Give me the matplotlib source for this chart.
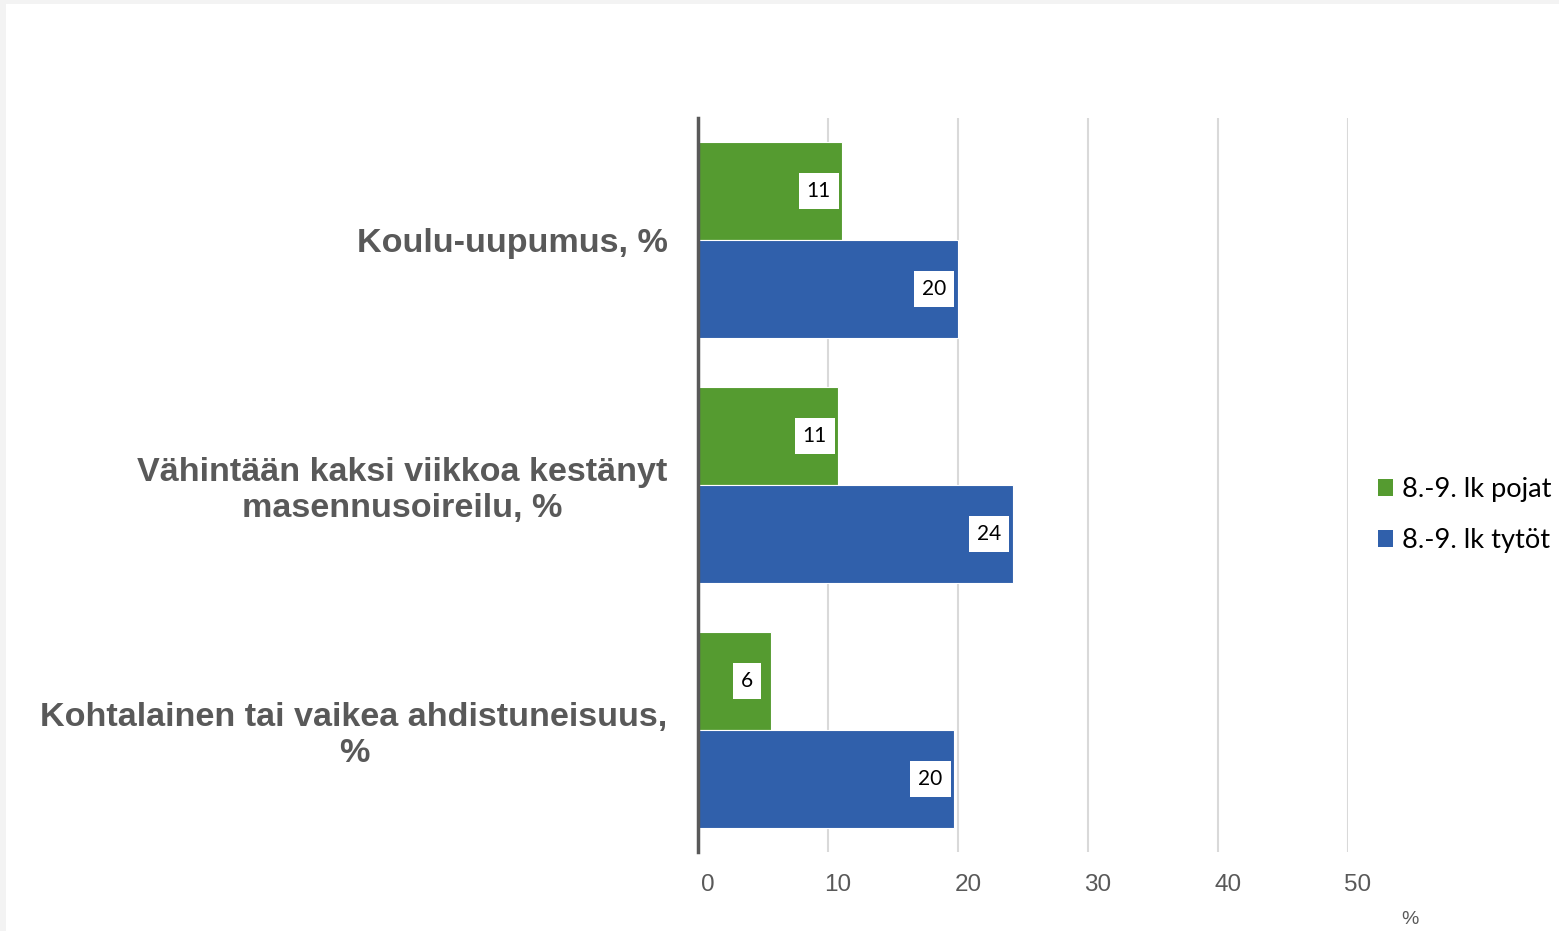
import matplotlib.pyplot as plt
import matplotlib.transforms as mtransforms
from matplotlib.patches import Patch, Rectangle
import numpy as np

categories = ["Koulu-uupumus, %",
              "Vähintään kaksi viikkoa kestänyt\nmasennusoireilu, %",
              "Kohtalainen tai vaikea ahdistuneisuus,\n%"]
series_names = ["8.-9. lk pojat", "8.-9. lk tytöt"]
pojat = [11.1, 10.8, 5.6]
tytot = [20.0, 24.2, 19.7]
xticks = [0, 10, 20, 30, 40, 50]

GREEN = "#559b30"
BLUE = "#3060ab"
GRAY = "#595959"

W, H = 1559, 931
fig = plt.figure(figsize=(W / 100, H / 100), dpi=100, facecolor="#f3f3f3")
fig.patches.append(Rectangle((6 / W, 0), 1, 1 - 4 / H, transform=fig.transFigure,
                             facecolor="white", edgecolor="none", zorder=-5))

ax = fig.add_axes([698 / W, 1 - 852 / H, (1348 - 698) / W, (852 - 118) / H])
ax.set_facecolor("none")

y = np.arange(len(categories))
h = 0.4
b1 = ax.barh(y - h / 2, pojat, height=h, color=GREEN, edgecolor="white", linewidth=0.8, zorder=3)
b2 = ax.barh(y + h / 2, tytot, height=h, color=BLUE, edgecolor="white", linewidth=0.8, zorder=3)

for bars, vals in ((b1, pojat), (b2, tytot)):
    for rect, v in zip(bars, vals):
        ax.annotate(f"{round(v)}", (v, rect.get_y() + rect.get_height() / 2),
                    xytext=(-17, 0), textcoords="offset points", ha="center", va="center",
                    fontsize=15, family=["Lato", "DejaVu Sans"], color="black", zorder=5,
                    bbox=dict(boxstyle="square,pad=0.38", facecolor="white", edgecolor="none"))

ax.set_ylim(len(categories) - 0.5, -0.5)
ax.set_xlim(0, 50)
ax.set_xticks(xticks)
ax.set_xticklabels([str(t) for t in xticks], family=["Liberation Sans Narrow", "Liberation Sans"],
                   fontsize=17.5, color=GRAY)
ax.tick_params(axis="x", length=0, pad=16)
shift = mtransforms.ScaledTranslation(10 / 100, 0, fig.dpi_scale_trans)
for lab in ax.get_xticklabels():
    lab.set_transform(lab.get_transform() + shift)

ax.set_yticks(y)
ax.set_yticklabels(categories, fontsize=24.6, fontweight="bold", color=GRAY,
                   family=["Liberation Sans", "DejaVu Sans"], ha="right", multialignment="center",
                   linespacing=1.2)
ax.tick_params(axis="y", length=0, pad=22)

ax.grid(axis="x", color="#d9d9d9", linewidth=1.5, zorder=0)
ax.set_axisbelow(True)
for s in ("top", "right", "bottom"):
    ax.spines[s].set_visible(False)
ax.spines["left"].set_color(GRAY)
ax.spines["left"].set_linewidth(2.5)
ax.spines["left"].set_zorder(4)

fig.text(1410 / W, 1 - 920 / H, "%", fontsize=14, color=GRAY, ha="center", va="center",
         family=["Liberation Sans Narrow", "Liberation Sans"])

handles = [Patch(facecolor=GREEN), Patch(facecolor=BLUE)]
fig.legend(handles, series_names, loc="center left", bbox_to_anchor=(1378 / W, 1 - 515 / H),
           frameon=False, borderpad=0, borderaxespad=0, handlelength=0.56, handleheight=0.56,
           handletextpad=0.33, labelspacing=0.95,
           prop={"family": ["Lato", "DejaVu Sans"], "size": 19.6})

fig.savefig("out.png", dpi=100, facecolor=fig.get_facecolor())
